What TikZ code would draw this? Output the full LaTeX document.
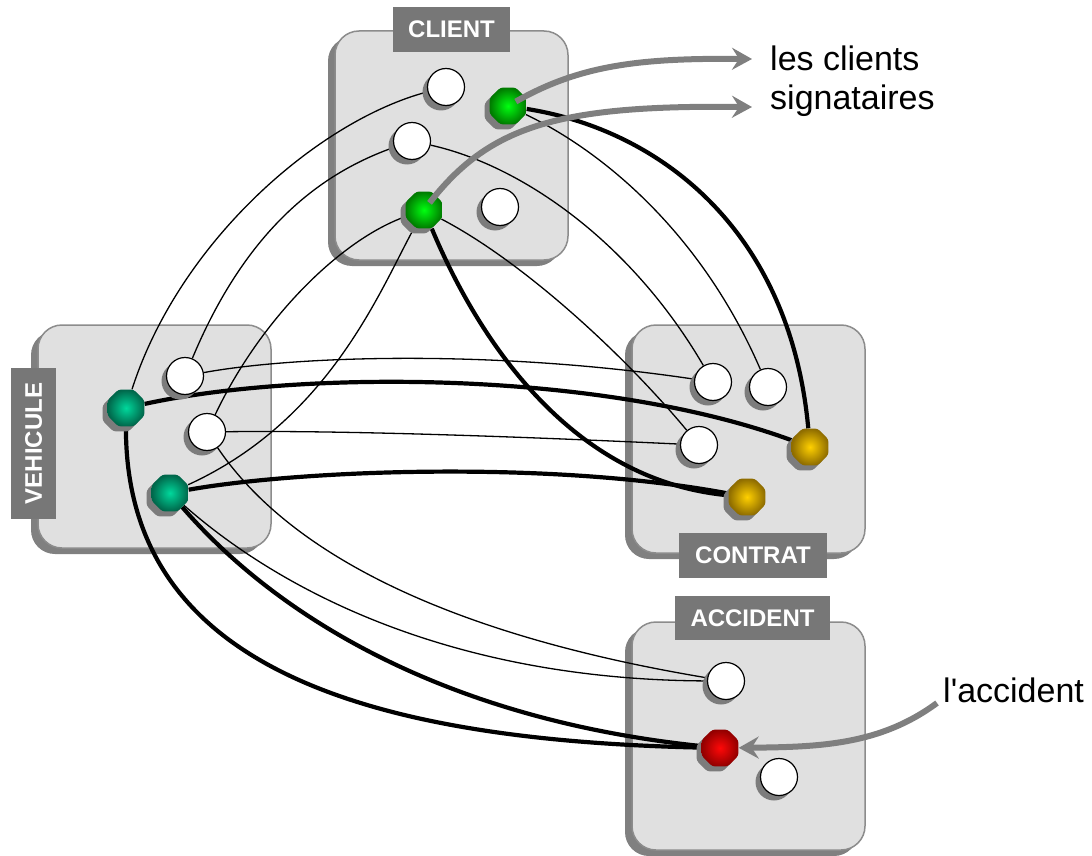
\documentclass[tikz,border=0pt]{standalone}
\usepackage{fontspec}
\setmainfont{Liberation Sans}
\newfontfamily\notefont{Liberation Sans}[Ligatures=TeXOff]
\usetikzlibrary{shapes.geometric,shadows,arrows.meta}
\pgfdeclarelayer{boxes}
\pgfdeclarelayer{wires}
\pgfdeclarelayer{front}
\pgfsetlayers{boxes,wires,main,front}

\definecolor{boxfill}{HTML}{E0E0E0}
\definecolor{boxline}{HTML}{8C8C8C}
\definecolor{boxshadow}{HTML}{808080}
\definecolor{tagfill}{HTML}{777777}
\definecolor{pointer}{HTML}{7F7F7F}
\definecolor{portshadow}{HTML}{7C7C7C}

% radial colours of the key occurrences (centre / rim)
\definecolor{greenin}{HTML}{00FF10}
\definecolor{greenout}{HTML}{007A00}
\definecolor{tealin}{HTML}{00D89C}
\definecolor{tealout}{HTML}{00664A}
\definecolor{goldin}{HTML}{FFD000}
\definecolor{goldout}{HTML}{8E6C00}
\definecolor{redin}{HTML}{FF0808}
\definecolor{redout}{HTML}{920000}

\tikzset{
  entity/.style={rectangle, draw=boxline, line width=1.5pt, fill=boxfill,
    rounded corners=24pt, inner sep=0pt,
    drop shadow={shadow xshift=-7pt, shadow yshift=-6pt, opacity=1, fill=boxshadow}},
  tag/.style={rectangle, fill=tagfill, text=white, inner sep=0pt,
    font=\bfseries\fontsize{24}{28}\selectfont, minimum height=45pt},
  port/.style={circle, draw=black, line width=1.2pt, fill=white,
    minimum size=37pt, inner sep=0pt,
    drop shadow={shadow xshift=-5pt, shadow yshift=-5pt, opacity=1, fill=portshadow}},
  key/.style={regular polygon, regular polygon sides=8, minimum size=40pt,
    inner sep=0pt, rounded corners=3pt, shading=radial,
    inner color=#1in, outer color=#1out,
    drop shadow={shadow xshift=-5pt, shadow yshift=-5pt, opacity=1, fill=portshadow}},
  thinwire/.style={line width=1.3pt},
  thickwire/.style={line width=4.2pt},
  pointer/.style={draw=pointer, line width=6pt,
    -{Stealth[length=20pt, width=22pt, inset=7pt]}},
  note/.style={font=\notefont\fontsize{34}{40}\selectfont, inner sep=0pt}
}

\begin{document}
\begin{tikzpicture}[x=1pt, y=-1pt]
\useasboundingbox (0,0) rectangle (1092,856);

% entity boxes and their titles
\begin{pgfonlayer}{boxes}
  \node[entity, minimum width=233pt, minimum height=229pt] (client) at (451.5,145.5) {};
  \node[entity, minimum width=233pt, minimum height=223pt] (vehicule) at (154.5,436.5) {};
  \node[entity, minimum width=233pt, minimum height=228pt] (contrat) at (748.5,439) {};
  \node[entity, minimum width=233pt, minimum height=228pt] (accident) at (748.5,736) {};
  \node[tag, minimum width=117pt] (tclient) at (451.5,29.5) {CLIENT};
  \node[tag, minimum width=151pt, rotate=90] (tvehicule) at (33.5,443.5) {VEHICULE};
  \node[tag, minimum width=148pt] (tcontrat) at (753,555.5) {CONTRAT};
  \node[tag, minimum width=155pt, minimum height=44pt] (taccident) at (752.5,618) {ACCIDENT};
\end{pgfonlayer}

% occurrences inside CLIENT
\node[port] (w1) at (446,87) {};
\node[key=green] (g1) at (508,106) {};
\node[port] (w2) at (412,141) {};
\node[key=green] (g2) at (424,210) {};
\node[port] (w3) at (500,207) {};

% occurrences inside VEHICULE
\node[port] (va) at (185,376) {};
\node[key=teal] (t1) at (126,408) {};
\node[port] (vb) at (207,432) {};
\node[key=teal] (t2) at (170,493) {};

% occurrences inside CONTRAT
\node[port] (c1) at (713,382) {};
\node[port] (c2) at (768,387) {};
\node[port] (c3) at (699,445) {};
\node[key=gold] (y1) at (810,447) {};
\node[key=gold] (y2) at (747,497) {};

% occurrences inside ACCIDENT
\node[port] (d1) at (726,681) {};
\node[key=red] (r1) at (720,748) {};
\node[port] (d2) at (779,777) {};

% links between occurrences
\begin{pgfonlayer}{wires}
  \draw[thinwire] (w1) .. controls (320,120) and (180,240) .. (t1);
  \draw[thinwire] (w2) .. controls (330,170) and (250,220) .. (va);
  \draw[thinwire] (w2) .. controls (520,165) and (630,240) .. (c1);
  \draw[thinwire] (g1) .. controls (600,150) and (700,230) .. (c2);
  \draw[thickwire] (g1) .. controls (660,130) and (790,230) .. (y1);
  \draw[thinwire] (g2) .. controls (340,240) and (260,320) .. (vb);
  \draw[thinwire] (g2) .. controls (380,290) and (330,420) .. (t2);
  \draw[thinwire] (g2) .. controls (520,260) and (620,350) .. (c3);
  \draw[thickwire] (g2) .. controls (470,320) and (560,480) .. (y2);
  \draw[thinwire] (va) .. controls (300,355) and (500,350) .. (c1);
  \draw[thickwire] (t1) .. controls (300,370) and (600,370) .. (y1);
  \draw[thinwire] (vb) .. controls (350,430) and (550,438) .. (c3);
  \draw[thickwire] (t2) .. controls (300,470) and (550,460) .. (y2);
  \draw[thinwire] (vb) .. controls (280,540) and (420,630) .. (d1);
  \draw[thinwire] (t2) .. controls (280,590) and (450,680) .. (d1);
  \draw[thickwire] (t2) .. controls (280,620) and (450,720) .. (r1);
  \draw[thickwire] (t1) .. controls (125,660) and (350,740) .. (r1);
\end{pgfonlayer}

% annotations
\node[note, anchor=base west] (lc) at (770,71) {les clients};
\node[note, anchor=base west] (sg) at (770,110) {signataires};
\node[note, anchor=base west] (acc) at (943,702) {l'accident};
\coordinate (tip1) at (752,59);
\coordinate (tip2) at (752,107);
\coordinate (accfoot) at (937,703);

\begin{pgfonlayer}{front}
  \draw[pointer, shorten <=9pt] (g1.center) .. controls (580,65) and (640,58) .. (tip1);
  \draw[pointer, shorten <=9pt] (g2.center) .. controls (490,125) and (560,105) .. (tip2);
  \draw[pointer] (accfoot) .. controls (880,745) and (820,747) .. (r1);
\end{pgfonlayer}
\end{tikzpicture}
\end{document}
